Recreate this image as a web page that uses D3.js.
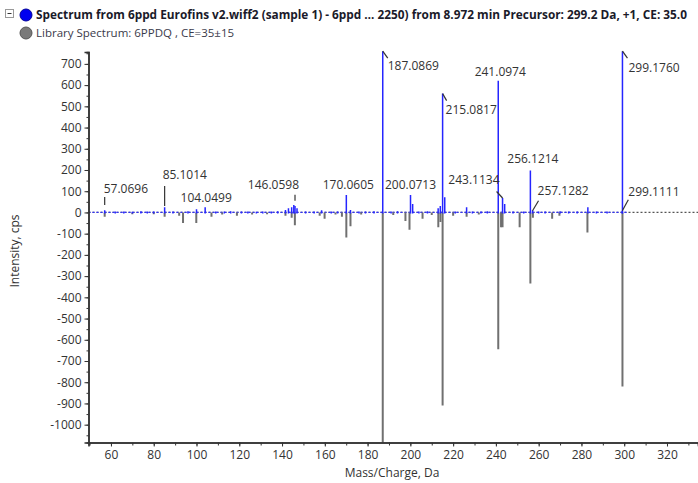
<!DOCTYPE html>
<html>
<head>
<meta charset="utf-8">
<script src="https://cdn.jsdelivr.net/npm/d3@7/dist/d3.min.js"></script>
<style>
body { margin: 0; background: #fff; }
text { font-family: "Segoe UI", "Open Sans", sans-serif; }
</style>
</head>
<body>
<svg id="chart" width="698" height="483"></svg>
<script>
// Experimental spectrum (blue, drawn upward): m/z and intensity (cps)
var sampleMz  = [57.0696, 62, 66, 70, 74, 77, 80, 85.1014, 89, 96, 100.0, 104.0499, 109, 113, 116, 121, 124, 128, 131, 135, 138,
                 141.6, 143.0, 144.5, 145.5, 146.0598, 147.0, 151, 155, 158.5, 163, 166, 170.0605, 172.0, 176, 179, 183,
                 187.0869, 191, 194, 200.0713, 201.07, 204, 208, 213.0, 214.0, 215.0817, 216.08, 221, 226.3, 229, 233, 236,
                 241.0974, 243.1134, 244.1, 248, 253, 256.1214, 257.1282, 260, 263, 270, 274, 278, 283.0, 287, 292, 299.1111, 299.1760];
var sampleInt = [10, 4, 5, 3, 6, 4, 5, 25, 4, 6, 15, 25, 5, 4, 6, 4, 5, 3, 5, 4, 6,
                 12, 20, 25, 35, 30, 20, 4, 5, 10, 5, 4, 82, 12, 5, 4, 6,
                 760, 4, 6, 82, 40, 5, 6, 20, 30, 560, 72, 4, 25, 5, 4, 6,
                 620, 68, 40, 5, 4, 198, 10, 5, 4, 6, 4, 5, 25, 4, 5, 8, 760];

// Library spectrum (grey, drawn downward): m/z and intensity (cps)
var libraryMz  = [57.07, 70, 80, 85.1, 91.9, 93.7, 99.9, 107, 112, 118.9, 126, 133, 141.6, 144.5, 146.0, 157.6, 159.9, 165, 168,
                  170.06, 172.0, 177, 187.09, 192, 197.7, 199.6, 205.7, 210, 213.07, 214.07, 215.08, 220, 226.3, 232,
                  241.1, 242.4, 243.1, 251.1, 256.12, 257.3, 266.3, 269.7, 282.8, 299.18];
var libraryInt = [20, 8, 8, 20, 15, 50, 50, 20, 10, 15, 10, 8, 15, 25, 60, 15, 30, 10, 20,
                  118, 65, 10, 1100, 12, 40, 82, 30, 12, 70, 45, 910, 15, 20, 10,
                  645, 70, 70, 70, 335, 25, 30, 15, 95, 820];

// Annotated peaks
var labelMz  = [57.0696, 85.1014, 104.0499, 146.0598, 170.0605, 187.0869, 200.0713, 215.0817, 241.0974, 243.1134, 256.1214, 257.1282, 299.1760, 299.1111];
var labelAt  = [35, 30, 25, 55, 82, 760, 82, 560, 620, 68, 198, 8, 760, 8];

var xTicks = d3.range(60, 321, 20);
var yTicks = d3.range(-1000, 701, 100);

var titleText = "Spectrum from 6ppd Eurofins v2.wiff2 (sample 1) - 6ppd \u2026 2250) from 8.972 min Precursor: 299.2 Da, +1, CE: 35.0";
var libraryText = "Library Spectrum: 6PPDQ , CE=35\u00b115";

// label placement: anchor, dx, dy (text), leader end offset
var labelLayout = [
  ["start", -1, -12, 0, -8],
  ["start", -2, -27, 0, -20],
  ["middle", 1, -5, null, null],
  ["end", 4, -12, 0, -6],
  ["middle", 2, -6, null, null],
  ["start", 5, 19, 5, 7],
  ["middle", 0, -6, null, null],
  ["start", 3, 20, 4, 7],
  ["middle", 2, -5, null, null],
  ["end", -3, -14, -6, -6.5],
  ["middle", 2.5, -7.5, null, null],
  ["start", 5, -16, 6, -10],
  ["start", 6, 21, 5, 7],
  ["start", 6, -15, 6, -11]
];

var svg = d3.select("#chart");
var plotL = 88.5, plotR = 698, plotT = 52, plotB = 442.5;

var x = d3.scaleLinear().domain([49.5, 334.5]).range([plotL, plotR]);
var y = d3.scaleLinear().domain([-1084, 756]).range([plotB, plotT]);

svg.append("defs").append("clipPath").attr("id", "plot")
  .append("rect").attr("x", plotL).attr("y", plotT - 2).attr("width", plotR - plotL).attr("height", plotB - plotT + 2);

var plot = svg.append("g").attr("clip-path", "url(#plot)");

// baselines
plot.append("line")
  .attr("x1", plotL).attr("x2", plotR).attr("y1", y(0)).attr("y2", y(0))
  .attr("stroke", "#555").attr("stroke-width", 1.3).attr("stroke-dasharray", "2,2");
plot.append("line")
  .attr("x1", plotL).attr("x2", x(301.5)).attr("y1", y(0)).attr("y2", y(0))
  .attr("stroke", "#3030ff").attr("stroke-width", 1.3).attr("stroke-dasharray", "2,2");

// library peaks (downward)
plot.selectAll(".lib").data(libraryMz).enter().append("line")
  .attr("class", "lib")
  .attr("x1", function(d) { return x(d); }).attr("x2", function(d) { return x(d); })
  .attr("y1", y(0)).attr("y2", function(d, i) { return y(-libraryInt[i]); })
  .attr("stroke", "#707070").attr("stroke-width", 2);

// sample peaks (upward)
plot.selectAll(".smp").data(sampleMz).enter().append("line")
  .attr("class", "smp")
  .attr("x1", function(d) { return x(d); }).attr("x2", function(d) { return x(d); })
  .attr("y1", y(0) + 1).attr("y2", function(d, i) { return y(sampleInt[i]); })
  .attr("stroke", "#2525ff").attr("stroke-width", 1.5);

// peak labels
labelMz.forEach(function(mz, i) {
  var L = labelLayout[i];
  var px = x(mz), py = y(labelAt[i]);
  if (L[3] !== null) {
    svg.append("line")
      .attr("x1", px).attr("y1", py).attr("x2", px + L[3]).attr("y2", py + L[4])
      .attr("stroke", "#333").attr("stroke-width", 1.2);
  }
  svg.append("text")
    .attr("x", px + L[1]).attr("y", py + L[2])
    .attr("text-anchor", L[0])
    .attr("font-size", 12).attr("fill", "#333")
    .text(mz.toFixed(4));
});

// axes (plain hyphen for negatives, like the instrument software)
var fmt = function(d) { return String(d); };

var xAxis = svg.append("g").attr("transform", "translate(0," + plotB + ")");
xAxis.call(d3.axisBottom(x).tickValues(d3.range(50, 335, 10)).tickSize(3).tickFormat(""));
xAxis.append("g").call(d3.axisBottom(x).tickValues(xTicks).tickSize(4).tickPadding(4).tickFormat(fmt));
xAxis.selectAll("path.domain").attr("stroke", "#333").attr("stroke-width", 1.5);

var yAxis = svg.append("g").attr("transform", "translate(" + plotL + ",0)");
yAxis.call(d3.axisLeft(y).tickValues(d3.range(-1050, 751, 50)).tickSize(2).tickFormat(""));
yAxis.append("g").call(d3.axisLeft(y).tickValues(yTicks).tickSize(4).tickPadding(3).tickFormat(fmt));
yAxis.selectAll("path.domain").attr("stroke", "#333").attr("stroke-width", 1.5);

svg.selectAll(".tick line").attr("stroke", "#333");
svg.selectAll(".tick text").attr("font-size", 12).attr("fill", "#333")
  .attr("font-family", "'Segoe UI', 'Open Sans', sans-serif");

// axis titles
svg.append("text").attr("x", 392).attr("y", 477).attr("text-anchor", "middle")
  .attr("font-size", 12).attr("fill", "#333").text("Mass/Charge, Da");
svg.append("text").attr("transform", "translate(19,251) rotate(-90)").attr("text-anchor", "middle")
  .attr("font-size", 12).attr("fill", "#333").text("Intensity, cps");

// header / legend
svg.append("rect").attr("x", 5.5).attr("y", 9.5).attr("width", 8).attr("height", 8)
  .attr("fill", "#fff").attr("stroke", "#999");
svg.append("line").attr("x1", 7.5).attr("x2", 11.5).attr("y1", 13.5).attr("y2", 13.5).attr("stroke", "#333");
svg.append("circle").attr("cx", 26).attr("cy", 15).attr("r", 6).attr("fill", "#0000f0").attr("stroke", "#00009a");
svg.append("circle").attr("cx", 26).attr("cy", 33).attr("r", 6).attr("fill", "#7a7a7a").attr("stroke", "#555");

var t1 = svg.append("text").attr("x", 36).attr("y", 19).attr("font-size", 12).attr("font-weight", "bold")
  .attr("fill", "#1a1a2a").text(titleText);
var t2 = svg.append("text").attr("x", 36).attr("y", 37).attr("font-size", 11.5)
  .attr("fill", "#3a3a4a").text(libraryText);

function fit(t, w) {
  var len = t.node().getComputedTextLength();
  if (Math.abs(len - w) > 3) t.attr("textLength", w).attr("lengthAdjust", "spacingAndGlyphs");
}
fit(t1, 651);
fit(t2, 197);
</script>
</body>
</html>
